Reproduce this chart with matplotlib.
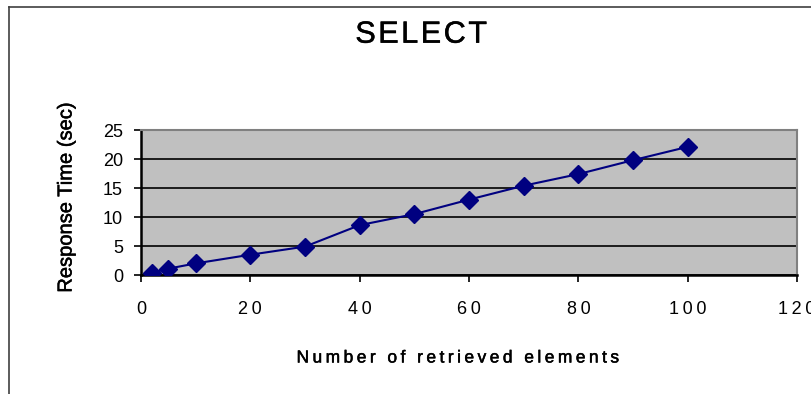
import matplotlib.pyplot as plt
import matplotlib.patheffects as pe
from matplotlib.lines import Line2D

plt.rcParams['font.family'] = ['Liberation Sans', 'DejaVu Sans']

elements = [2, 5, 10, 20, 30, 40, 50, 60, 70, 80, 90, 100]
response_sec = [0.4, 1.1, 2.0, 3.5, 4.9, 8.6, 10.5, 13.0, 15.4, 17.4, 19.8, 22.1]
x_ticks = [0, 20, 40, 60, 80, 100, 120]
y_ticks = [0, 5, 10, 15, 20, 25]

HAIR = '\u200a'
THIN = '\u2009'

# a touch heavier than plain Liberation Sans, the original is a blurry Arial render
heavy = [pe.withStroke(linewidth=0.35, foreground='black')]

fig = plt.figure(figsize=(8.11, 3.94), dpi=100)
ax = fig.add_axes([0.1739, 0.302, 0.8089, 0.368])

ax.set_facecolor('#c0c0c0')
ax.plot(elements, response_sec, color='#000080', linewidth=1.5,
        marker='D', markersize=9, markerfacecolor='#000080',
        markeredgecolor='#000080', zorder=3)

ax.set_xlim(0, 120)
ax.set_ylim(0, 25)
ax.set_xticks(x_ticks)
ax.set_yticks(y_ticks)
ax.set_xticklabels([THIN.join(str(t)) for t in x_ticks])
ax.yaxis.grid(True, color='black', linewidth=1.2)
ax.set_axisbelow(True)

for side in ('top', 'right'):
    ax.spines[side].set_color('#808080')
    ax.spines[side].set_linewidth(1.5)
for side in ('left', 'bottom'):
    ax.spines[side].set_color('black')
    ax.spines[side].set_linewidth(1.8)

ax.tick_params(axis='both', direction='out', length=5, width=1.2,
               labelsize=13, colors='black')
ax.tick_params(axis='x', pad=14)
ax.tick_params(axis='y', pad=8)

fig.text(0.519, 0.912, HAIR.join('SELECT'), ha='center', va='center',
         fontsize=22, path_effects=heavy)
fig.text(0.565, 0.0914, THIN.join('Number of retrieved elements'),
         ha='center', va='center', fontsize=12.5, path_effects=heavy)
fig.text(0.0814, 0.499, 'Response Time (sec)', ha='center', va='center',
         rotation=90, fontsize=14.5, path_effects=heavy)

# outer chart frame (only left and top edges visible in the crop)
fig.add_artist(Line2D([0.011, 0.011], [0.0, 0.983], transform=fig.transFigure,
                      color='#404040', linewidth=1.2))
fig.add_artist(Line2D([0.011, 1.0], [0.983, 0.983], transform=fig.transFigure,
                      color='#404040', linewidth=1.2))

fig.savefig('out.png', dpi=100)
